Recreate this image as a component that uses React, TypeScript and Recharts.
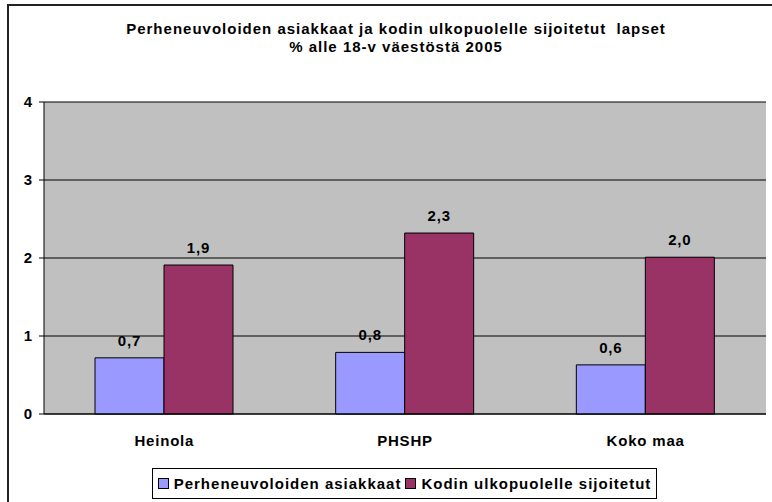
import React from 'react';
import {
  BarChart,
  Bar,
  XAxis,
  YAxis,
  CartesianGrid,
  Legend,
  LabelList,
} from 'recharts';

const categories = ['Heinola', 'PHSHP', 'Koko maa'];
const perheneuvola = [0.72, 0.79, 0.63];
const sijoitetut = [1.91, 2.32, 2.01];
const yTicks = [0, 1, 2, 3, 4];
const seriesNames = ['Perheneuvoloiden asiakkaat', 'Kodin ulkopuolelle sijoitetut'];
const titleLines = [
  'Perheneuvoloiden asiakkaat ja kodin ulkopuolelle sijoitetut  lapset',
  '% alle 18-v väestöstä 2005',
];

const data = categories.map((name, i) => ({
  name,
  idx: i + 0.5,
  a: perheneuvola[i],
  b: sijoitetut[i],
}));

const FONT = '"Liberation Sans", Arial, sans-serif';
const BLUE = '#9999FF';
const MAROON = '#993366';
const textStyle = { fill: '#000', fontFamily: FONT, fontWeight: 'bold', fontSize: 15, letterSpacing: 0.8 };

const fmt = (v: any) => Number(v).toFixed(1).replace('.', ',');

const LegendBox = () => (
  <div style={{ display: 'flex', justifyContent: 'center', paddingLeft: 43 }}>
    <div
      style={{
        display: 'inline-flex',
        alignItems: 'center',
        border: '1px solid #000',
        background: '#fff',
        height: 29,
        padding: '0 5px 0 5px',
        fontFamily: FONT,
        fontWeight: 'bold',
        fontSize: 15,
        letterSpacing: 1,
        color: '#000',
        whiteSpace: 'nowrap',
      }}
    >
      {[BLUE, MAROON].map((c, i) => (
        <span key={i} style={{ display: 'inline-flex', alignItems: 'center', marginLeft: i ? 4 : 0 }}>
          <span
            style={{
              display: 'inline-block',
              width: 9,
              height: 9,
              background: c,
              border: '1px solid #000',
              marginRight: 5,
            }}
          />
          {seriesNames[i]}
        </span>
      ))}
    </div>
  </div>
);

export default function App() {
  return (
    <div
      style={{
        position: 'fixed',
        left: 0,
        top: 0,
        width: 772,
        height: 502,
        overflow: 'hidden',
        background: '#fff',
      }}
    >
      <div
        style={{
          position: 'absolute',
          left: 7,
          top: 4,
          width: 780,
          height: 510,
          borderLeft: '2px solid #222',
          borderTop: '2px solid #222',
        }}
      />
      <div
        style={{
          position: 'absolute',
          left: 0,
          top: 20,
          width: 792,
          textAlign: 'center',
          fontFamily: FONT,
          fontWeight: 'bold',
          fontSize: 15,
          letterSpacing: 1,
          lineHeight: '18px',
          color: '#000',
        }}
      >
        {titleLines.map((t) => (
          <div key={t} style={{ whiteSpace: 'pre' }}>{t}</div>
        ))}
      </div>
      <div style={{ position: 'absolute', left: 0, top: 0 }}>
        <BarChart
          width={772}
          height={502}
          data={data}
          margin={{ top: 102, right: 6, bottom: 3, left: 0 }}
          barGap={0}
          barSize={69}
        >
          <CartesianGrid vertical={false} stroke="#000" fill="#C0C0C0" />
          <XAxis
            xAxisId="edge"
            type="number"
            dataKey="idx"
            domain={[0, 3]}
            ticks={[0, 1, 2, 3]}
            height={0}
            axisLine={false}
            tick={false}
            tickSize={5}
            tickLine={{ stroke: '#000' }}
          />
          <XAxis
            dataKey="name"
            height={54}
            axisLine={{ stroke: '#000' }}
            tickLine={false}
            tickSize={0}
            tickMargin={21}
            tick={textStyle}
          />
          <YAxis
            domain={[0, 4]}
            ticks={yTicks}
            width={44}
            axisLine={{ stroke: '#000' }}
            tickLine={{ stroke: '#000' }}
            tickSize={5}
            tickMargin={6}
            tick={textStyle}
          />
          <YAxis
            yAxisId="right"
            orientation="right"
            width={0}
            domain={[0, 4]}
            tick={false}
            tickLine={false}
            axisLine={{ stroke: '#808080' }}
          />
          <Legend verticalAlign="bottom" height={31} content={() => <LegendBox />} />
          <Bar dataKey="a" name={seriesNames[0]} fill={BLUE} stroke="#000" strokeWidth={1} isAnimationActive={false}>
            <LabelList dataKey="a" position="top" offset={12} formatter={fmt} style={textStyle} />
          </Bar>
          <Bar dataKey="b" name={seriesNames[1]} fill={MAROON} stroke="#000" strokeWidth={1} isAnimationActive={false}>
            <LabelList dataKey="b" position="top" offset={12} formatter={fmt} style={textStyle} />
          </Bar>
        </BarChart>
      </div>
    </div>
  );
}
